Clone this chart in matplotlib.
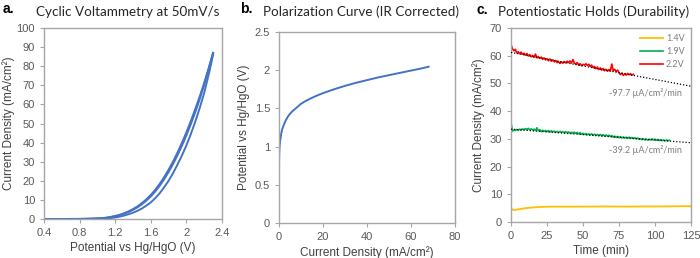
import matplotlib
matplotlib.use("Agg")
import matplotlib.pyplot as plt
from matplotlib.ticker import FuncFormatter

# --- panel a: cyclic voltammetry (two cycles) ---
cv_potential = [0.4, 0.6, 0.8, 0.9, 1.0, 1.05, 1.1, 1.15, 1.2, 1.25, 1.3, 1.35, 1.4, 1.45,
                1.5, 1.55, 1.6, 1.65, 1.7, 1.75, 1.8, 1.85, 1.9, 1.95, 2.0, 2.05, 2.1,
                2.15, 2.2, 2.25, 2.3]
cv_upper1 = [0.0, 0.0, 0.05, 0.15, 0.3, 0.45, 0.7, 1.1, 1.6, 2.2, 3.0, 4.0, 5.2, 6.6,
             8.3, 10.3, 12.6, 15.3, 18.4, 21.9, 25.8, 30.1, 34.8, 39.9, 45.4, 51.3, 57.6,
             64.2, 71.3, 79.0, 87.0]
cv_upper2 = [0.0, 0.0, 0.04, 0.12, 0.25, 0.4, 0.62, 0.98, 1.42, 1.98, 2.72, 3.65, 4.78, 6.1,
             7.72, 9.62, 11.8, 14.4, 17.4, 20.8, 24.6, 28.8, 33.4, 38.4, 43.8, 49.7, 56.0,
             62.8, 70.2, 78.3, 87.0]
cv_lower = [0.0, 0.0, 0.0, 0.04, 0.1, 0.18, 0.3, 0.5, 0.8, 1.25, 1.8, 2.5, 3.3, 4.3,
            5.5, 7.0, 8.7, 10.9, 13.5, 16.6, 20.0, 24.0, 28.5, 33.3, 38.5, 44.5, 51.0,
            58.2, 66.0, 75.5, 86.0]

# --- panel b: polarization curve ---
pol_current = [0, 0.02, 0.05, 0.1, 0.2, 0.3, 0.5, 0.75, 1, 1.5, 2, 3, 4, 5, 6, 8, 10, 12,
               14, 17, 20, 25, 30, 35, 40, 45, 50, 55, 60, 65, 68]
pol_potential = [0.62, 0.72, 0.82, 0.90, 0.97, 1.01, 1.07, 1.12, 1.17, 1.23, 1.27, 1.34, 1.39,
                 1.43, 1.46, 1.51, 1.56, 1.595, 1.625, 1.665, 1.70, 1.75, 1.795, 1.835, 1.87,
                 1.905, 1.935, 1.965, 1.995, 2.025, 2.045]

# --- panel c: potentiostatic holds ---
t_14 = [0, 1, 2, 3, 5, 8, 10, 15, 20, 25, 30, 40, 50, 60, 70, 80, 90, 100, 110, 120, 124, 125]
j_14 = [5.0, 4.5, 4.3, 4.35, 4.55, 4.8, 5.0, 5.25, 5.4, 5.5, 5.55, 5.55, 5.55, 5.6, 5.6, 5.55,
        5.6, 5.6, 5.65, 5.7, 5.7, 5.55]

t_19 = list(range(0, 111))
j_19 = [36.0, 32.8, 33.2, 33.0, 33.4, 33.1, 33.5, 33.2, 33.6, 33.3,
        33.7, 33.4, 33.8, 33.3, 33.6, 33.2, 33.5, 33.0, 34.0, 32.9,
        33.3, 32.6, 33.1, 32.7, 33.0, 32.6, 33.0, 32.5, 32.9, 32.5,
        32.8, 32.4, 32.7, 32.3, 32.7, 32.3, 32.6, 32.2, 32.6, 32.2,
        32.5, 32.1, 32.4, 32.0, 32.4, 32.0, 32.3, 31.8, 32.2, 31.7,
        32.0, 31.6, 31.9, 31.5, 31.8, 31.4, 31.8, 31.3, 31.7, 31.3,
        31.6, 31.2, 31.6, 31.1, 31.5, 31.0, 31.4, 31.0, 31.3, 30.9,
        31.2, 30.6, 31.0, 30.5, 30.9, 30.4, 30.8, 30.3, 30.7, 30.3,
        30.6, 30.2, 30.6, 30.2, 30.5, 30.1, 30.4, 30.0, 30.3, 29.8,
        30.1, 29.7, 30.0, 29.6, 29.9, 29.5, 29.9, 29.6, 30.0, 29.6,
        29.9, 29.5, 29.8, 29.4, 29.7, 29.4, 29.6, 29.3, 29.6, 29.3,
        29.5]

t_22 = list(range(0, 86))
j_22 = [64.0, 62.5, 61.8, 62.3, 61.0, 61.4, 60.7, 61.3, 60.5, 60.9,
        60.2, 60.8, 59.9, 60.4, 59.6, 60.1, 59.4, 60.6, 59.2, 59.7,
        59.0, 59.5, 58.7, 59.2, 58.5, 58.9, 58.2, 58.8, 58.0, 58.5,
        57.8, 58.3, 57.5, 57.9, 57.2, 57.8, 57.3, 57.9, 57.4, 58.0,
        57.5, 58.1, 57.4, 58.6, 57.3, 57.0, 57.5, 56.6, 57.1, 56.4,
        56.9, 56.6, 57.1, 56.5, 56.9, 56.1, 56.6, 55.7, 56.1, 55.3,
        55.9, 55.0, 55.6, 54.8, 55.4, 54.6, 55.1, 54.4, 55.0, 54.5,
        57.0, 54.6, 55.1, 54.3, 54.8, 53.9, 53.2, 53.7, 52.9, 53.5,
        53.0, 53.6, 53.1, 53.5, 53.0, 53.3]

trend_t = [0, 125]
trend_22 = [61.2, 49.0]
trend_19 = [33.5, 28.6]

BLUE = "#4472C4"
SPINE = "#A6A6A6"
TICKTXT = "#595959"
LABEL = "#404040"
SANS = "Liberation Sans"
TITLEF = "Lato"

plt.rcParams["font.family"] = SANS

fig = plt.figure(figsize=(7, 2.58), dpi=100)

def style(ax, xlim, ylim, xticks, yticks):
    ax.set_xlim(*xlim)
    ax.set_ylim(*ylim)
    ax.set_xticks(xticks)
    ax.set_yticks(yticks)
    for s in ax.spines.values():
        s.set_color(SPINE)
        s.set_linewidth(1.0)
    ax.tick_params(colors=SPINE, labelcolor=TICKTXT, labelsize=8, length=3, width=0.8)
    ax.xaxis.set_major_formatter(FuncFormatter(lambda v, p: f"{v:g}"))
    ax.yaxis.set_major_formatter(FuncFormatter(lambda v, p: f"{v:g}"))

# panel a
ax1 = fig.add_axes([44 / 700, 39 / 258, 178 / 700, 191 / 258])
ax1.plot(cv_potential, cv_lower, color=BLUE, lw=1.4)
ax1.plot(cv_potential, cv_upper1, color=BLUE, lw=1.4)
ax1.plot(cv_potential, cv_upper2, color=BLUE, lw=1.4)
style(ax1, (0.4, 2.4), (0, 100), [0.4, 0.8, 1.2, 1.6, 2.0, 2.4], range(0, 101, 10))
ax1.set_xlabel("Potential vs Hg/HgO (V)", fontsize=8.5, color=LABEL, labelpad=3)
ax1.set_ylabel("Current Density (mA/cm²)", fontsize=8.5, color=LABEL, labelpad=1)

# panel b
ax2 = fig.add_axes([279 / 700, 35 / 258, 176 / 700, 191 / 258])
ax2.plot(pol_current, pol_potential, color=BLUE, lw=1.4)
style(ax2, (0, 80), (0, 2.5), range(0, 81, 20), [0, 0.5, 1, 1.5, 2, 2.5])
ax2.set_xlabel("Current Density (mA/cm²)", fontsize=8.5, color=LABEL, labelpad=3)
ax2.set_ylabel("Potential vs Hg/HgO (V)", fontsize=8.5, color=LABEL, labelpad=3)

# panel c
ax3 = fig.add_axes([511 / 700, 36 / 258, 180 / 700, 194 / 258])
ax3.plot(t_14, j_14, color="#FFC000", lw=1.3, label="1.4V")
ax3.plot(t_19, j_19, color="#00B050", lw=1.2, label="1.9V")
ax3.plot(t_22, j_22, color="#FF0000", lw=1.2, label="2.2V")
ax3.plot(trend_t, trend_22, color="black", lw=0.9, ls=(0, (1, 1.5)), zorder=4)
ax3.plot(trend_t, trend_19, color="black", lw=0.9, ls=(0, (1, 1.5)), zorder=4)
style(ax3, (0, 125), (0, 70), range(0, 126, 25), range(0, 71, 10))
ax3.set_xlabel("Time (min)", fontsize=8.5, color=LABEL, labelpad=3)
ax3.set_ylabel("Current Density (mA/cm²)", fontsize=8.5, color=LABEL, labelpad=3)
leg = ax3.legend(loc="upper right", frameon=False, handlelength=2.6,
                 handletextpad=0.3, labelspacing=0.45, borderaxespad=0.3,
                 prop={"family": TITLEF, "size": 6.5})
for txt in leg.get_texts():
    txt.set_color("#7F7F7F")
ax3.text(119, 46.5, "-97.7 µA/cm²/min", ha="right", va="center", fontsize=6.5,
         color="#7F7F7F", family=TITLEF)
ax3.text(119, 26.0, "-39.2 µA/cm²/min", ha="right", va="center", fontsize=6.5,
         color="#7F7F7F", family=TITLEF)

# titles and panel letters
for cx, title in [(127.5, "Cyclic Voltammetry at 50mV/s"),
                  (361, "Polarization Curve (IR Corrected)"),
                  (594, "Potentiostatic Holds (Durability)")]:
    fig.text(cx / 700, 1 - 12 / 258, title, ha="center", va="center",
             fontsize=9.7, family=TITLEF, color="#262626")
fig.text(3 / 700, 1 - 9 / 258, "a.", ha="left", va="center", fontsize=10, fontweight="bold")
fig.text(240 / 700, 1 - 9 / 258, "b.", ha="left", va="center", fontsize=10, fontweight="bold")
fig.text(477 / 700, 1 - 10 / 258, "c.", ha="left", va="center", fontsize=10, fontweight="bold")

fig.savefig("out.png", dpi=100)
